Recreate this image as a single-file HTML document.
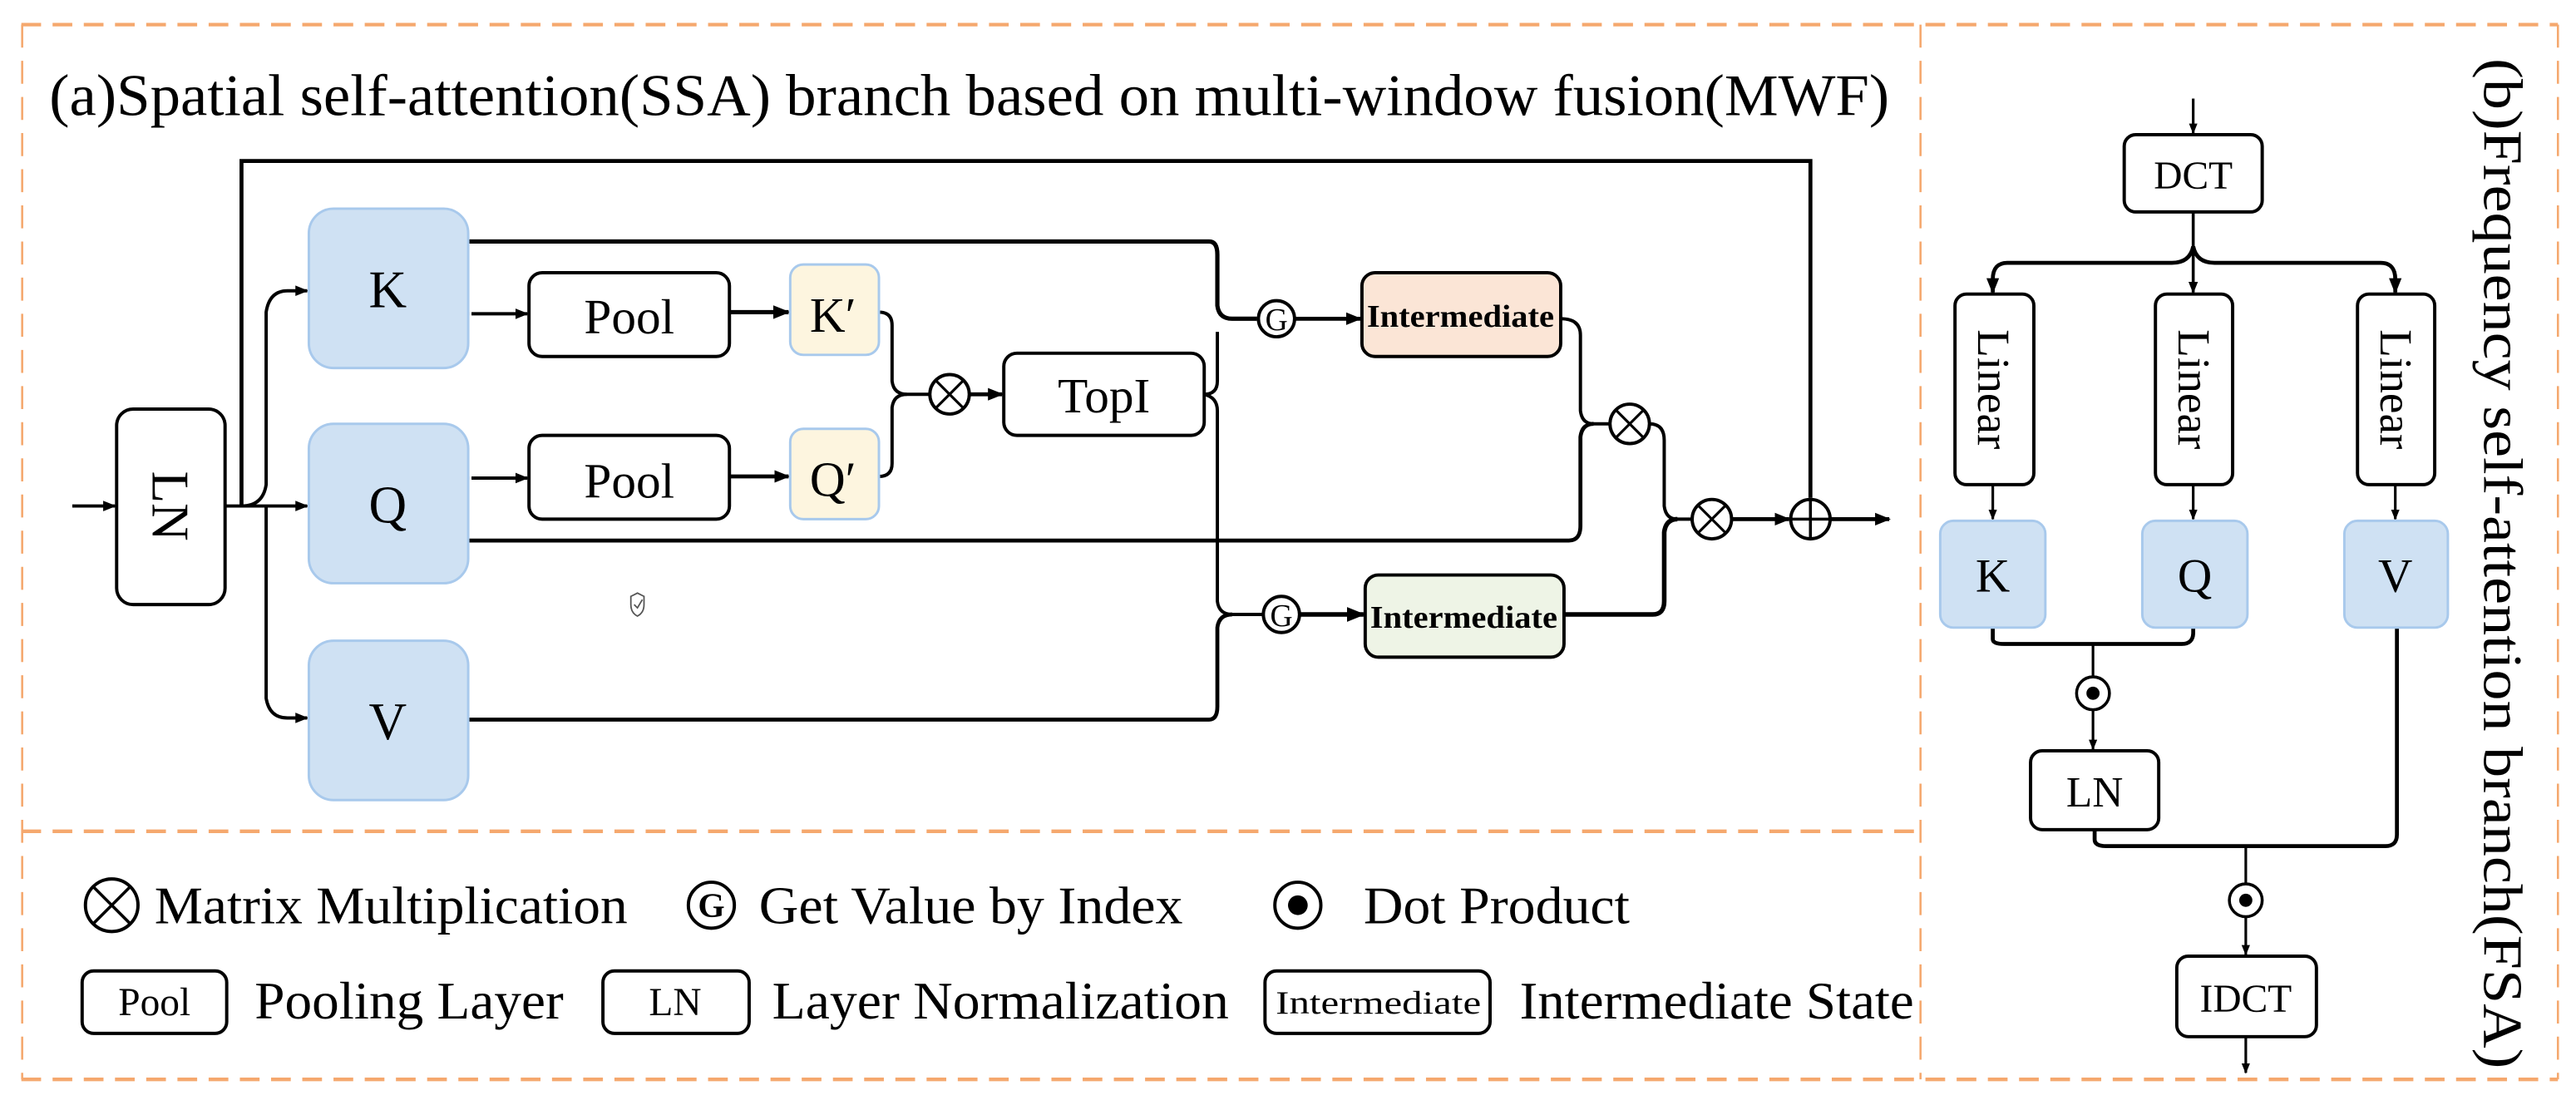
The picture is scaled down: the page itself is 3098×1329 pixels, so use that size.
<!DOCTYPE html>
<html><head><meta charset="utf-8"><style>
html,body{margin:0;padding:0;background:#fff;width:3098px;height:1329px;overflow:hidden}
svg{display:block}
text{font-family:"Liberation Serif",serif;fill:#000}
</style></head><body>
<svg width="3098" height="1329" viewBox="0 0 1568 672.6" preserveAspectRatio="none" xmlns="http://www.w3.org/2000/svg">
<defs>
<marker id="a" viewBox="0 0 10 10" refX="9" refY="5" markerWidth="4" markerHeight="4" orient="auto" markerUnits="strokeWidth"><path d="M0,1 L10,5 L0,9 z" fill="#000"/></marker>
</defs>
<g fill="none" stroke="#f5a86e" stroke-width="2.2" stroke-dasharray="12,7">
<line x1="13" y1="15" x2="1557" y2="15"/>
<line x1="13" y1="657" x2="1557" y2="657"/>
<line x1="13" y1="506" x2="1170" y2="506"/>
</g>
<g fill="none" stroke="#f5a86e" stroke-width="1.3" stroke-dasharray="14,8">
<line x1="13.5" y1="15" x2="13.5" y2="657"/>
<line x1="1169" y1="15" x2="1169" y2="657"/>
<line x1="1557" y1="15" x2="1557" y2="657"/>
</g>
<text x="30" y="70" font-size="36" textLength="1120" lengthAdjust="spacingAndGlyphs">(a)Spatial self-attention(SSA) branch based on multi-window fusion(MWF)</text>

<g fill="none" stroke="#000" stroke-width="2">
<line x1="44" y1="308" x2="70" y2="308" marker-end="url(#a)"/>
<rect x="71" y="249" width="66" height="119" rx="10"/>
<line x1="137" y1="308" x2="187" y2="308" marker-end="url(#a)"/>
<polyline points="147,308 147,98 1102,98 1102,303" stroke-width="2.4"/>
<path d="M147,308 Q160,308 162,295 L162,190 Q164,177 175,177 L187,177" marker-end="url(#a)"/>
<path d="M162,308 L162,425 Q164,437 175,437 L187,437" marker-end="url(#a)"/>
<path d="M285,147 L736,147 Q741,147 741,155 L741,186 Q742,194 750,194 L765,194" stroke-width="2.6"/>
<line x1="287" y1="191" x2="321" y2="191" marker-end="url(#a)"/>
<rect x="322" y="166" width="122" height="51" rx="8"/>
<line x1="444" y1="190" x2="480" y2="190" stroke-width="2.6" marker-end="url(#a)"/>
<line x1="287" y1="291" x2="321" y2="291" marker-end="url(#a)"/>
<rect x="322" y="265" width="122" height="51" rx="8"/>
<line x1="444" y1="290" x2="480" y2="290" stroke-width="2.4" marker-end="url(#a)"/>
<path d="M535,190 Q543,190 543,198 L543,232 Q544,240 552,240 L566,240"/>
<path d="M535,290 Q543,290 543,282 L543,248 Q544,240 552,240"/>
<line x1="590" y1="240" x2="610" y2="240" stroke-width="2.4" marker-end="url(#a)"/>
<rect x="611" y="215" width="122" height="50" rx="8"/>
<path d="M733,240 Q741,240 741,232 L741,202"/>
<path d="M733,240 Q741,242 741,250 L741,366 Q742,374 750,374 L769,374"/>
<path d="M285,438 L736,438 Q741,438 741,430 L741,382 Q742,374 750,374" stroke-width="2.4"/>
<circle cx="777" cy="194" r="11"/>
<circle cx="780" cy="374" r="11"/>
<line x1="788" y1="194" x2="828" y2="194" stroke-width="2.4" marker-end="url(#a)"/>
<line x1="791" y1="374" x2="830" y2="374" stroke-width="2.8" marker-end="url(#a)"/>
<rect x="829" y="166" width="121" height="51" rx="8" fill="#fbe5d6"/>
<rect x="831" y="350" width="121" height="50" rx="8" fill="#eef4e6"/>
<path d="M950,194 Q962,194 962,204 L962,250 Q963,258 970,258 L980,258"/>
<path d="M285,329 L955,329 Q962,329 962,320 L962,266 Q963,258 970,258" stroke-width="2.4"/>
<circle cx="992" cy="258" r="12"/>
<path d="M1004,258 Q1013,258 1013,268 L1013,308 Q1014,316 1021,316 L1030,316"/>
<path d="M952,374 L1006,374 Q1013,374 1013,366 L1013,324 Q1014,316 1021,316" stroke-width="2.8"/>
<circle cx="1042" cy="316" r="12"/>
<line x1="1054" y1="316" x2="1089" y2="316" stroke-width="2.4" marker-end="url(#a)"/>
<circle cx="1102" cy="316" r="12"/>
<line x1="1114" y1="316" x2="1150" y2="316" stroke-width="2.4" marker-end="url(#a)"/>
<path d="M569.5,231.5 L586.5,248.5 M586.5,231.5 L569.5,248.5" stroke-width="1.6"/>
<circle cx="578" cy="240" r="12"/>
<path d="M983.5,249.5 L1000.5,266.5 M1000.5,249.5 L983.5,266.5" stroke-width="1.6"/>
<path d="M1033.5,307.5 L1050.5,324.5 M1050.5,307.5 L1033.5,324.5" stroke-width="1.6"/>
<path d="M1090,316 L1114,316 M1102,304 L1102,328" stroke-width="1.8"/>
</g>
<g fill="#cfe1f3" stroke="#a8c9ec" stroke-width="1.5">
<rect x="188" y="127" width="97" height="97" rx="15"/>
<rect x="188" y="258" width="97" height="97" rx="15"/>
<rect x="188" y="390" width="97" height="97" rx="15"/>
</g>
<g fill="#fdf5df" stroke="#a8c9ec" stroke-width="1.5">
<rect x="481" y="161" width="54" height="55" rx="8"/>
<rect x="481" y="261" width="54" height="55" rx="8"/>
</g>
<g font-size="32" text-anchor="middle">
<text x="236" y="187">K</text><text x="236" y="318">Q</text><text x="236" y="450">V</text>
<text x="383" y="203" font-size="30">Pool</text><text x="383" y="303" font-size="30">Pool</text>
<text x="507" y="202" font-size="30">K′</text><text x="507" y="302" font-size="30">Q′</text>
<text x="672" y="251" font-size="30">TopI</text>
<text x="889" y="199" font-size="19" font-weight="bold" textLength="114" lengthAdjust="spacingAndGlyphs">Intermediate</text>
<text x="891" y="382" font-size="19" font-weight="bold" textLength="114" lengthAdjust="spacingAndGlyphs">Intermediate</text>
<text x="777" y="201" font-size="19">G</text><text x="780" y="381" font-size="19">G</text>
<text transform="translate(104,308) rotate(90)" y="11" font-size="32">LN</text>
</g>
<path d="M384,363 L388,361 L392,363 L392,368 Q392,373 388,375 Q384,373 384,368 z M386,368 L388,370 L391,365" fill="none" stroke="#555" stroke-width="0.9"/>

<!-- right panel -->
<g fill="none" stroke="#000" stroke-width="2">
<line x1="1335" y1="60" x2="1335" y2="81" stroke-width="1.6" marker-end="url(#a)"/>
<rect x="1293" y="82" width="84" height="47" rx="7"/>
<line x1="1335" y1="129" x2="1335" y2="178" stroke-width="1.8" marker-end="url(#a)"/>
<path d="M1335,150 Q1333,160 1322,160 L1222,160 Q1213,160 1213,170 L1213,178" stroke-width="2.4" marker-end="url(#a)"/>
<path d="M1335,150 Q1337,160 1348,160 L1449,160 Q1458,160 1458,170 L1458,178" stroke-width="2.4" marker-end="url(#a)"/>
<rect x="1190" y="179" width="48" height="116" rx="7"/>
<rect x="1312" y="179" width="47" height="116" rx="7"/>
<rect x="1435" y="179" width="47" height="116" rx="7"/>
<line x1="1213" y1="295" x2="1213" y2="316" stroke-width="1.6" marker-end="url(#a)"/>
<line x1="1335" y1="295" x2="1335" y2="316" stroke-width="1.6" marker-end="url(#a)"/>
<line x1="1458" y1="295" x2="1458" y2="316" stroke-width="1.6" marker-end="url(#a)"/>
<path d="M1213,382 L1213,389 Q1213,392 1220,392 L1328,392 Q1335,392 1335,385 L1335,382" stroke-width="2.4"/>
<line x1="1274" y1="392" x2="1274" y2="456" stroke-width="1.6" marker-end="url(#a)"/>
<circle cx="1274" cy="422" r="10" fill="#fff" stroke-width="1.8"/>
<circle cx="1274" cy="422" r="4" fill="#000" stroke="none"/>
<rect x="1236" y="457" width="78" height="48" rx="7"/>
<path d="M1275,505 L1275,511 Q1275,515 1282,515 L1452,515 Q1459,515 1459,508 L1459,382" stroke-width="2.4"/>
<line x1="1367" y1="515" x2="1367" y2="581" stroke-width="1.6" marker-end="url(#a)"/>
<circle cx="1367" cy="548" r="10" fill="#fff" stroke-width="1.8"/>
<circle cx="1367" cy="548" r="4" fill="#000" stroke="none"/>
<rect x="1325" y="582" width="85" height="49" rx="7"/>
<line x1="1367" y1="631" x2="1367" y2="653" stroke-width="1.6" marker-end="url(#a)"/>
</g>
<g fill="#cfe1f3" stroke="#a8c9ec" stroke-width="1.5">
<rect x="1181" y="317" width="64" height="65" rx="8"/>
<rect x="1304" y="317" width="64" height="65" rx="8"/>
<rect x="1427" y="317" width="63" height="65" rx="8"/>
</g>
<g text-anchor="middle" font-size="29">
<text x="1335" y="115" font-size="24">DCT</text>
<text x="1213" y="360">K</text><text x="1336" y="360">Q</text><text x="1458" y="360">V</text>
<text x="1275" y="491" font-size="26">LN</text>
<text x="1367" y="616" font-size="24">IDCT</text>
<text transform="translate(1204,237) rotate(90)" font-size="28">Linear</text>
<text transform="translate(1326,237) rotate(90)" font-size="28">Linear</text>
<text transform="translate(1449,237) rotate(90)" font-size="28">Linear</text>
<text transform="translate(1512,343) rotate(90)" font-size="34" textLength="615" lengthAdjust="spacingAndGlyphs">(b)Frequency self-attention branch(FSA)</text>
</g>

<!-- legend -->
<g fill="none" stroke="#000" stroke-width="2">
<circle cx="68" cy="551" r="16"/>
<path d="M56.7,539.7 L79.3,562.3 M79.3,539.7 L56.7,562.3" stroke-width="1.8"/>
<circle cx="433" cy="551" r="14"/>
<circle cx="790" cy="551" r="14"/>
<rect x="50" y="591" width="88" height="38" rx="7"/>
<rect x="367" y="591" width="89" height="38" rx="7"/>
<rect x="770" y="591" width="137" height="38" rx="7"/>
</g>
<circle cx="790" cy="551" r="6" fill="#000"/>
<text x="433" y="558" font-size="21" font-weight="bold" text-anchor="middle">G</text>
<g font-size="32">
<text x="94" y="562" textLength="288" lengthAdjust="spacingAndGlyphs">Matrix Multiplication</text>
<text x="462" y="562" textLength="258" lengthAdjust="spacingAndGlyphs">Get Value by Index</text>
<text x="830" y="562" textLength="162" lengthAdjust="spacingAndGlyphs" fill="#444">Dot Product</text>
<text x="155" y="620" textLength="188" lengthAdjust="spacingAndGlyphs">Pooling Layer</text>
<text x="470" y="620" textLength="278" lengthAdjust="spacingAndGlyphs">Layer Normalization</text>
<text x="925" y="620" textLength="240" lengthAdjust="spacingAndGlyphs">Intermediate State</text>
</g>
<text x="94" y="618" font-size="24" text-anchor="middle">Pool</text>
<text x="411" y="618" font-size="24" text-anchor="middle">LN</text>
<text x="839" y="617" font-size="20" text-anchor="middle" textLength="125" lengthAdjust="spacingAndGlyphs">Intermediate</text>
</svg>
</body></html>
